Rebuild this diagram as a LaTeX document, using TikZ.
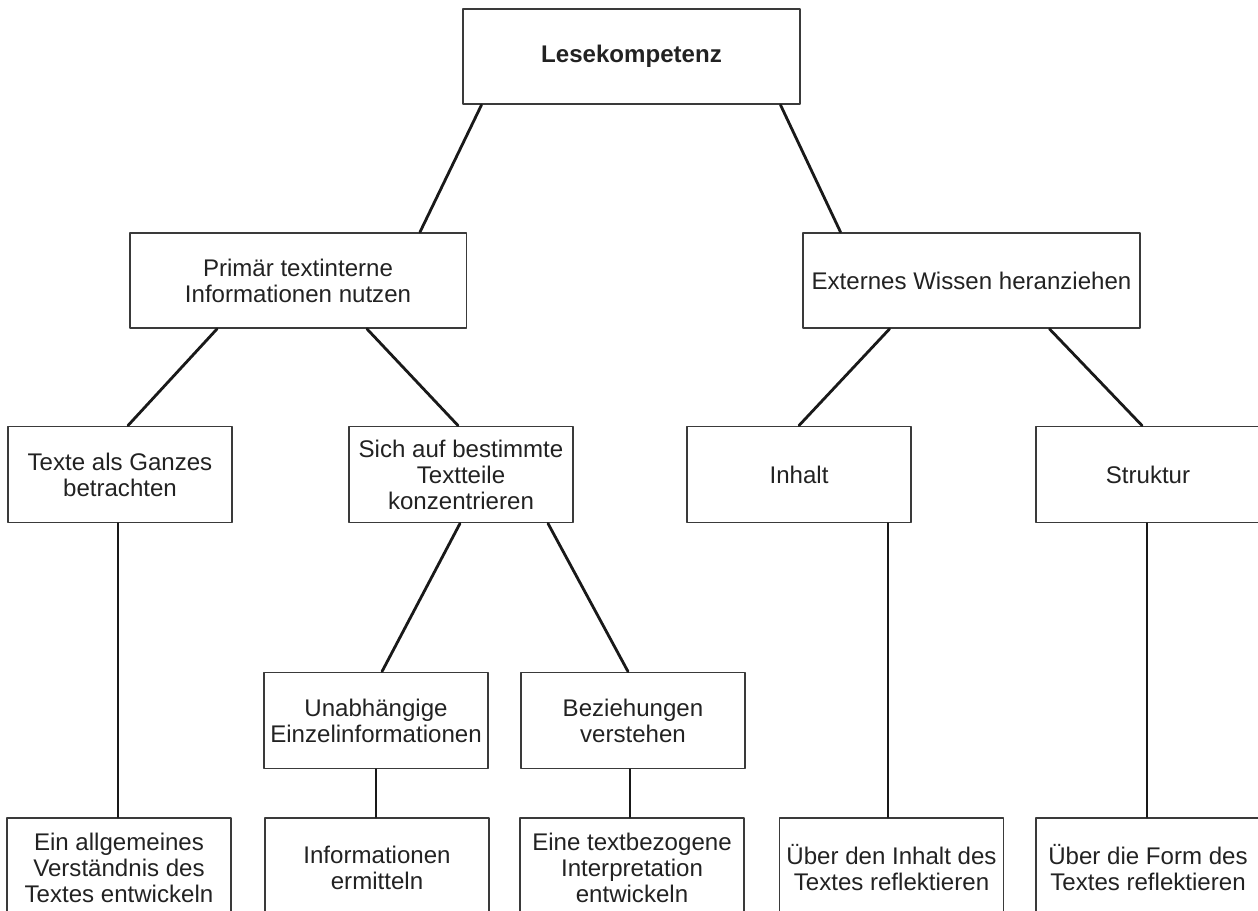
\documentclass[tikz,border=0pt]{standalone}
\usepackage{fontspec}
\setmainfont{Liberation Sans}
\usetikzlibrary{calc}

\definecolor{boxgray}{HTML}{3A3A3A}
\definecolor{txtgray}{HTML}{222222}

\begin{document}
\begin{tikzpicture}[
    x=0.02cm, y=-0.02cm,
    line cap=round,
    line join=round,
    every node/.style={
      font=\fontsize{13.7}{14.8}\selectfont,
      text=txtgray,
      inner sep=1pt
    },
    bigbox/.style={draw=boxgray, line width=1.1pt, align=center,
      minimum width=6.74cm, minimum height=1.9cm},
    smallbox/.style={draw=boxgray, line width=1.1pt, align=center,
      minimum width=4.48cm, minimum height=1.92cm},
    lowbox/.style={smallbox, minimum height=2cm},
    link/.style={draw=black!90, line width=1.6pt}
]
\useasboundingbox (0,0) rectangle (1258,911);
\clip (0,0) rectangle (1258,911);

% top level
\node[bigbox, font=\fontsize{13.7}{14.8}\selectfont\bfseries] (lese) at (631.5,56.5) {Lesekompetenz};

% second level
\node[bigbox] (prim) at (298,280.5) {Primär textinterne\\Informationen nutzen};
\node[bigbox] (ext) at (971.5,280.5) {Externes Wissen heranziehen};

% third level
\node[smallbox] (texte) at (120,474.5) {Texte als Ganzes\\betrachten};
\node[smallbox] (sich) at (461,474.5) {Sich auf bestimmte\\Textteile\\konzentrieren};
\node[smallbox] (inhalt) at (799,474.5) {Inhalt};
\node[smallbox] (strukt) at (1148,474.5) {Struktur};

% fourth level
\node[smallbox] (unab) at (376,720.5) {Unabhängige\\Einzelinformationen};
\node[smallbox] (bez) at (633,720.5) {Beziehungen\\verstehen};

% bottom row
\node[lowbox] (allg) at (119,868) {Ein allgemeines\\Verständnis des\\Textes entwickeln};
\node[lowbox] (info) at (377,868) {Informationen\\ermitteln};
\node[lowbox] (interp) at (632,868) {Eine textbezogene\\Interpretation\\entwickeln};
\node[lowbox] (ueinh) at (891.5,868) {Über den Inhalt des\\Textes reflektieren};
\node[lowbox] (ueform) at (1148,868) {Über die Form des\\Textes reflektieren};

% connectors
\draw[link] ($(lese.south)+(-150,0)$) -- ($(prim.north)+(122,0)$);
\draw[link] ($(lese.south)+(149,0)$) -- ($(ext.north)+(-131,0)$);
\draw[link] ($(prim.south)+(-81,0)$) -- ($(texte.north)+(8,0)$);
\draw[link] ($(prim.south)+(69,0)$) -- ($(sich.north)+(-3,0)$);
\draw[link] ($(ext.south)+(-82,0)$) -- (inhalt.north);
\draw[link] ($(ext.south)+(78,0)$) -- ($(strukt.north)+(-6,0)$);
\draw[link] ($(sich.south)+(-1,0)$) -- ($(unab.north)+(6,0)$);
\draw[link] ($(sich.south)+(87,0)$) -- ($(bez.north)+(-5,0)$);
\draw[link] ($(texte.south)+(-2,0)$) -- ($(allg.north)+(-1,0)$);
\draw[link] (unab.south) -- ($(info.north)+(-1,0)$);
\draw[link] ($(bez.south)+(-3,0)$) -- ($(interp.north)+(-2,0)$);
\draw[link] ($(inhalt.south)+(89,0)$) -- ($(ueinh.north)+(-3.5,0)$);
\draw[link] ($(strukt.south)+(-1,0)$) -- ($(ueform.north)+(-1,0)$);
\end{tikzpicture}
\end{document}
